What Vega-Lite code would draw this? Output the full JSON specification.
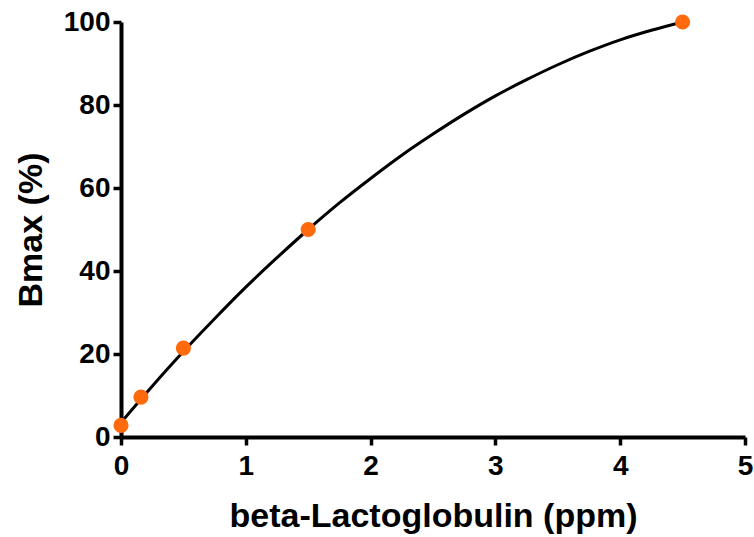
{
  "$schema": "https://vega.github.io/schema/vega-lite/v6.json",
  "autosize": {"type": "none"},
  "width": 624,
  "height": 415,
  "padding": {"left": 121, "top": 22, "right": 9, "bottom": 100},
  "background": "white",
  "config": {
    "view": {"stroke": null},
    "font": "Liberation Sans",
    "axis": {
      "grid": false,
      "domainColor": "black",
      "domainWidth": 4,
      "tickColor": "black",
      "tickWidth": 3.5,
      "tickSize": 8,
      "labelFont": "Liberation Sans",
      "labelFontWeight": "bold",
      "labelFontSize": 28,
      "labelColor": "black",
      "labelFlush": false,
      "labelOverlap": false,
      "titleFont": "Liberation Sans",
      "titleFontWeight": "bold",
      "titleFontSize": 34,
      "titleColor": "black"
    }
  },
  "datasets": {
    "points": [
      {"x": 0, "y": 2.8},
      {"x": 0.16, "y": 9.6},
      {"x": 0.5, "y": 21.4},
      {"x": 1.5, "y": 50.0},
      {"x": 4.5, "y": 100}
    ],
    "curve": [
      {"x": 0, "y": 3.5},
      {"x": 0.25, "y": 12.25},
      {"x": 0.5, "y": 20.6},
      {"x": 0.75, "y": 28.5},
      {"x": 1.0, "y": 36.1},
      {"x": 1.25, "y": 43.2},
      {"x": 1.5, "y": 50.0},
      {"x": 1.75, "y": 56.4},
      {"x": 2.0, "y": 62.3},
      {"x": 2.25, "y": 67.9},
      {"x": 2.5, "y": 73.0},
      {"x": 2.75, "y": 77.8},
      {"x": 3.0, "y": 82.2},
      {"x": 3.25, "y": 86.1},
      {"x": 3.5, "y": 89.7},
      {"x": 3.75, "y": 92.9},
      {"x": 4.0, "y": 95.7},
      {"x": 4.25, "y": 98.0},
      {"x": 4.5, "y": 100.0}
    ]
  },
  "layer": [
    {
      "data": {"name": "curve"},
      "mark": {"type": "line", "color": "black", "strokeWidth": 3, "interpolate": "monotone"},
      "encoding": {
        "x": {
          "field": "x", "type": "quantitative",
          "scale": {"domain": [0, 5], "nice": false},
          "axis": {"values": [0, 1, 2, 3, 4, 5], "format": "d", "title": "beta-Lactoglobulin (ppm)", "labelPadding": 7, "titlePadding": 19}
        },
        "y": {
          "field": "y", "type": "quantitative",
          "scale": {"domain": [0, 100], "nice": false},
          "axis": {"values": [0, 20, 40, 60, 80, 100], "format": "d", "title": "Bmax (%)", "labelPadding": 3, "titlePadding": 15}
        }
      }
    },
    {
      "data": {"name": "points"},
      "mark": {"type": "point", "filled": true, "shape": "circle", "size": 230, "color": "#FF6A0D", "opacity": 1},
      "encoding": {
        "x": {"field": "x", "type": "quantitative"},
        "y": {"field": "y", "type": "quantitative"}
      }
    }
  ]
}
